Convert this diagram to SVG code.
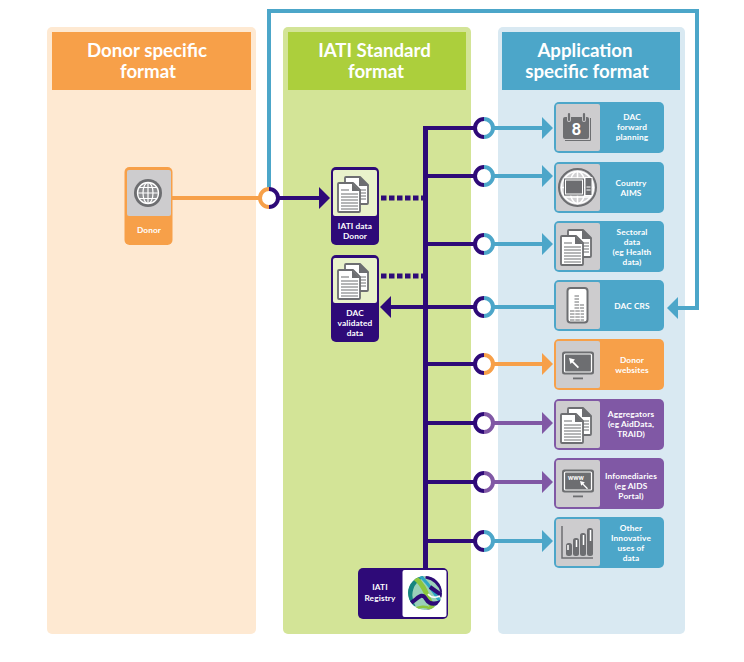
<svg xmlns="http://www.w3.org/2000/svg" width="744" height="662" viewBox="0 0 744 662">
<style>
text{font-family:"Lato","Open Sans",sans-serif;font-weight:700;fill:#fff;text-anchor:middle}
.h{font-size:18.7px}
.n{font-size:8.3px;letter-spacing:.12px}
.ln{fill:none;stroke-width:4}
.nv{stroke:#2E0A78}.bl{stroke:#4CA6C9}.or{stroke:#F7A049}.pu{stroke:#8058A5}
.fnv{fill:#2E0A78}.fbl{fill:#4CA6C9}.for{fill:#F7A049}.fpu{fill:#8058A5}
.gy{fill:#CDCCCE}
.ic{fill:#6D6E71}
.dots{fill:none;stroke:#2E0A78;stroke-width:5;stroke-dasharray:5.5 2.500}
</style>
<defs>
<g id="docs">
<path d="M-9-16H5L13-8V10Q13 11 12 11H-9Q-10 11-10 10V-15Q-10-16-9-16Z" fill="#fff" stroke="#6D6E71" stroke-width="1.800" stroke-linejoin="round"/>
<path d="M4-17L14-7H4Z" class="ic"/>
<path d="M5-3H11M5 0H11M5 3H11M5 6H11" stroke="#6D6E71" stroke-width="1.100" fill="none"/>
<path d="M-16-10H-2L5-3V18Q5 19 4 19H-16Q-17 19-17 18V-9Q-17-10-16-10Z" fill="#fff" stroke="#6D6E71" stroke-width="1.800" stroke-linejoin="round"/>
<path d="M-3-10L5-2H-3Z" class="ic"/>
<path d="M-14-3H-6M-14 1H3M-14 4H3M-14 7H3M-14 10H3M-14 13H3M-14 16H3" stroke="#6D6E71" stroke-width="1.200" fill="none"/>
</g>
<g id="screen">
<rect x="-16" y="-11.500" width="32" height="23" rx="2.500" fill="#6D6E71"/>
<rect x="-13.500" y="-9" width="27" height="18" rx="1" fill="none" stroke="#fff" stroke-width="1.200"/>
<rect x="-5" y="14.500" width="10" height="1.800" class="ic"/>
</g>
<path id="cursor" d="M0 0L6 1.500L4.300 3.300L10 9L8.800 10.200L3 4.500L1.500 6Z" fill="#fff"/>
<clipPath id="logo"><circle cx="425" cy="593" r="17"/></clipPath>
</defs>

<g id="panels">
<rect x="47" y="27" width="209" height="607" rx="5" fill="#FEE9D2"/>
<rect x="283" y="27" width="188" height="607" rx="5" fill="#D3E497"/>
<rect x="498" y="27" width="187" height="607" rx="5" fill="#D9E9F2"/>
<rect x="52" y="32" width="199" height="58" fill="#F7A049"/>
<rect x="288" y="32" width="178" height="58" fill="#ACCF3C"/>
<rect x="502" y="32" width="178" height="58" fill="#4CA6C9"/>
<text class="h" x="147" y="57">Donor specific</text><text class="h" x="148" y="78">format</text>
<text class="h" x="374.500" y="57">IATI Standard</text><text class="h" x="376" y="78">format</text>
<text class="h" x="585" y="57">Application</text><text class="h" x="587" y="78">specific format</text>
</g>

<g id="connectors">
<path class="ln bl" d="M269 190V11H697V308H678"/>
<path class="fbl" d="M667 308L678 297V319Z"/>
<path class="ln or" d="M172 198H262"/>
<path class="ln nv" d="M276 198H320"/>
<path class="fnv" d="M330 198L319 187V209Z"/>
<path class="dots" d="M381 198H424M381 276H424"/>
<path class="ln nv" d="M426 307H390"/>
<path class="fnv" d="M380 307L391 296V318Z"/>
<path d="M425.500 126V570" fill="none" stroke="#2E0A78" stroke-width="5"/>
<path class="ln nv" d="M426 128H476M426 176H476M426 244H476M426 307H476M426 364H476M426 423H476M426 482H476M426 541H476"/>
<path class="ln bl" d="M493 128H544M493 176H544M493 244H544M493 541H544M493 307H556"/>
<path class="ln or" d="M493 364H544"/>
<path class="ln pu" d="M493 423H544M493 482H544"/>
<path class="fbl" d="M553 128L542 117V139ZM553 176L542 165V187ZM553 244L542 233V255ZM553 541L542 530V552Z"/>
<path class="for" d="M553 364L542 353V375Z"/>
<path class="fpu" d="M553 423L542 412V434ZM553 482L542 471V493Z"/>
<g fill="#fff">
<circle cx="269" cy="198" r="9"/>
<circle cx="484" cy="128" r="9"/><circle cx="484" cy="176" r="9"/><circle cx="484" cy="244" r="9"/><circle cx="484" cy="307" r="9"/><circle cx="484" cy="364" r="9"/><circle cx="484" cy="423" r="9"/><circle cx="484" cy="482" r="9"/><circle cx="484" cy="541" r="9"/>
</g>
<path class="ln or" d="M269 189A9 9 0 0 0 269 207"/><path class="ln nv" d="M269 189A9 9 0 0 1 269 207"/>
<path class="ln nv" d="M484 119A9 9 0 0 0 484 137M484 167A9 9 0 0 0 484 185M484 235A9 9 0 0 0 484 253M484 298A9 9 0 0 0 484 316M484 355A9 9 0 0 0 484 373M484 414A9 9 0 0 0 484 432M484 473A9 9 0 0 0 484 491M484 532A9 9 0 0 0 484 550"/>
<path class="ln bl" d="M484 119A9 9 0 0 1 484 137M484 167A9 9 0 0 1 484 185M484 235A9 9 0 0 1 484 253M484 298A9 9 0 0 1 484 316M484 532A9 9 0 0 1 484 550"/>
<path class="ln or" d="M484 355A9 9 0 0 1 484 373"/>
<path class="ln pu" d="M484 414A9 9 0 0 1 484 432M484 473A9 9 0 0 1 484 491"/>
</g>

<g id="donor">
<rect x="124.500" y="167" width="48" height="78" rx="5" class="for"/>
<rect x="127" y="170" width="44" height="46" rx="2" class="gy"/>
<circle cx="148" cy="193" r="14" class="ic"/>
<circle cx="148" cy="193" r="10.500" fill="#8E8F92" stroke="#fff" stroke-width="1.300"/>
<g fill="none" stroke="#fff" stroke-width="1.200"><ellipse cx="148" cy="193" rx="5" ry="10.500"/><path d="M148 182.500V203.500M137.500 193H158.500M139 187.500H157M139 198.500H157"/></g>
<text class="n" x="149" y="233">Donor</text>
</g>
<g id="iati-data-donor">
<rect x="331" y="167" width="48" height="78" rx="5" class="fnv"/>
<rect x="333" y="170" width="44" height="46" rx="2" fill="#E9F2CB"/>
<use href="#docs" x="355" y="193"/>
<text class="n" x="355" y="229">IATI data</text><text class="n" x="355" y="239">Donor</text>
</g>
<g id="dac-validated">
<rect x="331" y="255" width="48" height="87" rx="5" class="fnv"/>
<rect x="333" y="258" width="44" height="45" rx="2" fill="#E9F2CB"/>
<use href="#docs" x="355" y="280"/>
<text class="n" x="355" y="316">DAC</text><text class="n" x="355" y="326">validated</text><text class="n" x="355" y="336">data</text>
</g>
<g id="dac-forward">
<rect x="554" y="102" width="110" height="51" rx="5" class="fbl"/>
<rect x="556" y="104" width="44" height="47" rx="2" class="gy"/>
<path d="M565 140.500H590.500V118" fill="none" stroke="#6D6E71"/>
<rect x="563" y="117" width="26" height="22" rx="2" class="ic"/>
<path d="M569 114V120M584 114V120" stroke="#CDCCCE" stroke-width="4" stroke-linecap="round"/>
<path d="M569 114V120M584 114V120" stroke="#6D6E71" stroke-width="2.200" stroke-linecap="round"/>
<text x="576.500" y="134.500" style="font-size:16px;font-weight:900">8</text>
<text class="n" x="632" y="120">DAC</text><text class="n" x="632" y="130">forward</text><text class="n" x="632" y="140">planning</text>
</g>
<g id="country-aims">
<rect x="554" y="162" width="110" height="51" rx="5" class="fbl"/>
<rect x="556" y="164" width="44" height="47" rx="2" class="gy"/>
<circle cx="577.500" cy="187.500" r="18.500" fill="#D0D0D2" stroke="#6D6E71" stroke-width="2"/>
<g fill="none" stroke="#fff" stroke-width="1.500"><circle cx="577.500" cy="187.500" r="16"/><ellipse cx="577.500" cy="187.500" rx="8" ry="16"/><path d="M561.500 187.500H593.500M577.500 171.500V203.500M564 178H591M564 197H591"/></g>
<rect x="564" y="178.500" width="20" height="17" fill="#6D6E71"/><rect x="565.500" y="180" width="17" height="14" fill="#6D6E71" stroke="#fff"/>
<rect x="584.500" y="177" width="8" height="19" fill="#fff"/><rect x="585.500" y="178" width="6" height="17" class="ic"/>
<path d="M586.500 187H590.500M586.500 190H590.500" stroke="#fff"/>
<text class="n" x="631" y="186">Country</text><text class="n" x="631" y="196">AIMS</text>
</g>
<g id="sectoral">
<rect x="554" y="221" width="110" height="51" rx="5" class="fbl"/>
<rect x="556" y="223" width="44" height="47" rx="2" class="gy"/>
<use href="#docs" x="578" y="246"/>
<text class="n" x="632" y="235">Sectoral</text><text class="n" x="632" y="245">data</text><text class="n" x="632" y="255">(eg Health</text><text class="n" x="632" y="265">data)</text>
</g>
<g id="dac-crs">
<rect x="554" y="280" width="110" height="51" rx="5" class="fbl"/>
<rect x="556" y="282" width="44" height="47" rx="2" class="gy"/>
<rect x="567.500" y="288" width="20" height="34.500" rx="3" fill="#fff" stroke="#6D6E71" stroke-width="2"/>
<g fill="none" stroke="#6D6E71" stroke-dasharray="4.500 .8"><path d="M574.500 296H579M574.500 299H579M574.500 302H579M574.500 305H584M574.500 308H584M570 311H584M570 314H584M570 317H584M570 320H584"/></g>
<text class="n" x="632" y="309">DAC CRS</text>
</g>
<g id="donor-websites">
<rect x="554" y="339" width="110" height="51" rx="5" class="for"/>
<rect x="556" y="341" width="44" height="47" rx="2" class="gy"/>
<use href="#screen" x="578" y="363"/>
<use href="#cursor" x="569" y="358"/>
<text class="n" x="632" y="363">Donor</text><text class="n" x="632" y="373">websites</text>
</g>
<g id="aggregators">
<rect x="554" y="399" width="110" height="51" rx="5" class="fpu"/>
<rect x="556" y="401" width="44" height="47" rx="2" class="gy"/>
<use href="#docs" x="578" y="424"/>
<text class="n" x="631" y="417">Aggregators</text><text class="n" x="631" y="427">(eg AidData,</text><text class="n" x="631" y="437">TRAID)</text>
</g>
<g id="infomediaries">
<rect x="554" y="458" width="110" height="51" rx="5" class="fpu"/>
<rect x="556" y="460" width="44" height="47" rx="2" class="gy"/>
<use href="#screen" x="578" y="481"/>
<text x="576" y="480" style="font-size:6.500px;font-weight:900">www</text>
<use href="#cursor" x="580" y="481" transform="translate(116 96.200) scale(.8)"/>
<text class="n" x="631" y="479">Infomediaries</text><text class="n" x="631" y="489">(eg AIDS</text><text class="n" x="631" y="499">Portal)</text>
</g>
<g id="other-uses">
<rect x="554" y="517" width="110" height="51" rx="5" class="fbl"/>
<rect x="556" y="519" width="44" height="47" rx="2" class="gy"/>
<path d="M562 526V558H593" fill="none" stroke="#6D6E71" stroke-width="1.500"/>
<rect x="566" y="543" width="6" height="13" rx="2.500" class="ic"/><rect x="573" y="538" width="6" height="18" rx="2.500" class="ic"/><rect x="580" y="533" width="6" height="23" rx="2.500" class="ic"/><rect x="587" y="528" width="6" height="28" rx="2.500" class="ic"/>
<path d="M568 545V550M576.500 540V547M583.500 535V545M590.500 530V541" stroke="#fff" stroke-width="1.500"/>
<text class="n" x="631" y="531">Other</text><text class="n" x="631" y="541">Innovative</text><text class="n" x="631" y="551">uses of</text><text class="n" x="631" y="561">data</text>
</g>
<g id="iati-registry">
<rect x="358" y="568" width="90" height="51" rx="5" class="fnv"/>
<rect x="402.500" y="570" width="44" height="47" rx="2" fill="#fff"/>
<g clip-path="url(#logo)" fill="none">
<circle cx="425" cy="593" r="17" fill="#9AD0B8"/>
<path d="M412 608C404 594 410 580 422 574" stroke="#17857F" stroke-width="8"/>
<path d="M412 576C424 582 428 598 434 612" stroke="#8CC63F" stroke-width="5"/>
<path d="M420 576C430 584 434 594 442 604" stroke="#2BA6C4" stroke-width="3"/>
<path d="M426 575C436 577 442 584 444 592" stroke="#2E0A78" stroke-width="7"/>
<path d="M430 587L444 597" stroke="#2E0A78" stroke-width="4"/>
<path d="M408 604C416 602 421 590 426 599C430 606 437 604 443 601" stroke="#2E0A78" stroke-width="4"/>
<path d="M414 612C424 613 434 612 442 606" stroke="#2E0A78" stroke-width="4"/>
<path d="M411 610C420 607 424 605 431 609" stroke="#8CC63F" stroke-width="2.500"/>
<path d="M428 594C431 598 435 598 440 596" stroke="#fff" stroke-width="1.500"/>
</g>
<text class="n" x="380" y="590">IATI</text><text class="n" x="380" y="601">Registry</text>
</g>
</svg>
